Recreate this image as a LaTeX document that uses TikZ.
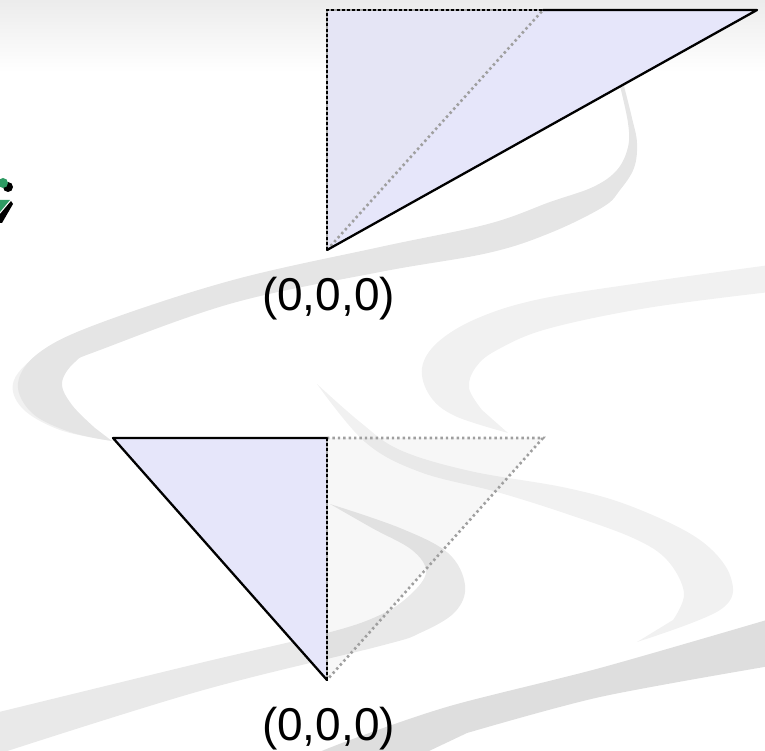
\documentclass[tikz,border=0pt]{standalone}
\usepackage{fontspec}
\setmainfont{Liberation Sans}
\definecolor{lav}{HTML}{E6E6FA}
\definecolor{lavg}{HTML}{E5E5F5}
\definecolor{glyphgreen}{HTML}{2E9A63}
\tikzset{
  ribbon/.style={fill=gray!20, draw=none},
  faintribbon/.style={fill=gray!11, draw=none},
  solidedge/.style={draw=black, line width=2.3pt, line cap=round, line join=round},
  dotedge/.style={draw=gray!75, line width=2.6pt, dash pattern=on 2.4pt off 3pt},
  grayedge/.style={draw=gray!70, line width=2.6pt},
  dashedge/.style={draw=black, line width=1.5pt, dash pattern=on 3pt off 2.2pt},
  coordlabel/.style={font=\fontsize{46}{54}\selectfont, anchor=base, inner sep=0pt}
}
\begin{document}
\begin{tikzpicture}[x=1pt,y=-1pt]
\useasboundingbox (0,0) rectangle (765,751);
\clip (0,0) rectangle (765,751);
% top gradient band
\shade[top color=gray!15, bottom color=white] (0,0) rectangle (765,72);
% background ribbons
\fill[faintribbon] plot[smooth, tension=0.6] coordinates {(100,326) (45,350) (14,380) (22,408) (60,430) (112,441)}
  -- plot[smooth, tension=0.6] coordinates {(60,425) (30,405) (25,380) (45,355) (100,332)} -- cycle;
\fill[ribbon] plot[smooth, tension=0.6] coordinates {(620,86) (628,123) (628,147) (617,170) (593,187) (550,202) (488,224) (380,247) (233,280) (100,323) (40,352) (18,383) (32,413) (70,432) (112,441)}
  -- plot[smooth, tension=0.6] coordinates {(95,428) (72,405) (62,383) (75,362) (100,350) (233,303) (380,272) (488,253) (550,233) (603,207) (620,190) (634,168) (637,143) (632,118) (624,86)} -- cycle;
\fill[faintribbon] plot[smooth, tension=0.6] coordinates {(770,265) (647,282) (540,299) (478,318) (438,342) (422,368) (430,396) (455,416) (508,433)}
  -- plot[smooth, tension=0.6] coordinates {(482,410) (469,388) (476,367) (497,350) (547,329) (647,308) (770,292)} -- cycle;
\fill[faintribbon] plot[smooth, tension=0.6] coordinates {(317,384) (360,422) (400,450) (470,471) (567,488) (633,507) (700,540) (731,578) (720,610) (637,642)}
  -- plot[smooth, tension=0.6] coordinates {(673,620) (684,593) (667,560) (633,538) (567,514) (497,492) (420,472) (365,442) (317,384)} -- cycle;
\fill[ribbon, fill=gray!17] plot[smooth, tension=0.6] coordinates {(330,504) (400,528) (448,553) (465,585) (455,612) (420,633) (380,646) (200,691) (-5,755)}
  -- plot[smooth, tension=0.6] coordinates {(-5,713) (200,663) (327,633) (380,615) (410,595) (426,572) (412,550) (372,528) (330,504)} -- cycle;
\fill[ribbon, fill=gray!26] plot[smooth, tension=0.5] coordinates {(770,619) (600,668) (450,706) (350,740) (300,760)}
  -- (410,760) -- plot[smooth, tension=0.5] coordinates {(467,733) (600,697) (770,666)} -- cycle;
% green glyph fragment at left edge
\fill[black] (8,187) circle (5);
\fill[glyphgreen] (3,183) circle (5);
\fill[black] (0,214) -- (11,201) -- (13,204) -- (2,223) -- (0,223) -- cycle;
\fill[glyphgreen] (0,200) -- (10,200) -- (0,212) -- cycle;
% ---------- top triangle ----------
\coordinate (A) at (327,10);
\coordinate (B) at (757,10);
\coordinate (O) at (327,250);
\coordinate (M) at (543,10);
\fill[lav] (A) -- (B) -- (O) -- cycle;
\fill[lavg] (A) -- (M) -- (O) -- cycle;
\draw[dotedge] (O) -- (M);
\draw[grayedge] (O) -- (A) -- (M);
\draw[dashedge] (O) -- (A) -- (M);
\draw[solidedge] (M) -- (B) -- (O);
\node[coordlabel] (lab1) at (328.5,310.5) {(0,0,0)};
% ---------- bottom triangle ----------
\coordinate (C) at (113,438);
\coordinate (D) at (327,438);
\coordinate (E) at (327,680);
\coordinate (F) at (543,438);
\fill[black, fill opacity=0.03] (D) -- (F) -- (E) -- cycle;
\fill[lav] (C) -- (D) -- (E) -- cycle;
\draw[dotedge] (D) -- (F) -- (E);
\draw[grayedge] (D) -- (E);
\draw[dashedge] (D) -- (E);
\draw[solidedge] (D) -- (C) -- (E);
\node[coordlabel] (lab2) at (328.5,740) {(0,0,0)};
\end{tikzpicture}
\end{document}
